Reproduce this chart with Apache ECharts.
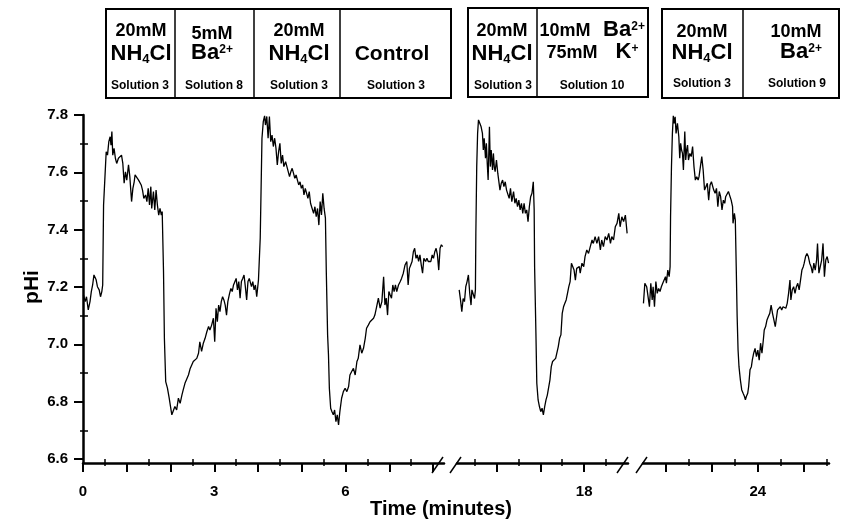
<!DOCTYPE html>
<html><head><meta charset="utf-8">
<script src="https://cdn.jsdelivr.net/npm/echarts@6/dist/echarts.min.js"></script>
<style>html,body{margin:0;padding:0;background:#fff}#c{width:841px;height:520px}</style>
</head><body><div id="c"></div>
<script>
// pHi traces (time in minutes, pH)
const seg1 = [[0.01,7.172],[0.05,7.149],[0.08,7.166],[0.12,7.120],[0.16,7.149],[0.19,7.184],[0.22,7.207],[0.25,7.242],[0.30,7.225],[0.33,7.201],[0.37,7.190],[0.40,7.166],[0.43,7.184],[0.45,7.207],[0.47,7.486],[0.50,7.579],[0.53,7.672],[0.56,7.660],[0.59,7.707],[0.62,7.724],[0.64,7.695],[0.66,7.742],[0.68,7.660],[0.71,7.684],[0.74,7.649],[0.77,7.631],[0.81,7.649],[0.85,7.655],[0.88,7.660],[0.91,7.631],[0.94,7.562],[0.97,7.602],[1.00,7.573],[1.04,7.626],[1.07,7.585],[1.11,7.498],[1.14,7.544],[1.17,7.567],[1.19,7.591],[1.23,7.585],[1.27,7.573],[1.30,7.573],[1.33,7.556],[1.36,7.538],[1.39,7.509],[1.43,7.521],[1.46,7.498],[1.49,7.544],[1.52,7.486],[1.55,7.550],[1.57,7.474],[1.61,7.533],[1.64,7.469],[1.67,7.538],[1.70,7.486],[1.73,7.451],[1.76,7.474],[1.79,7.451],[1.81,7.463],[1.84,7.254],[1.86,7.021],[1.89,6.870],[1.93,6.847],[1.97,6.812],[2.00,6.783],[2.03,6.754],[2.07,6.748],[2.10,6.783],[2.14,6.771],[2.18,6.812],[2.22,6.794],[2.26,6.823],[2.29,6.841],[2.33,6.864],[2.37,6.858],[2.41,6.893],[2.45,6.916],[2.48,6.916],[2.52,6.940],[2.56,6.934],[2.60,6.951],[2.64,6.969],[2.67,7.009],[2.71,6.975],[2.75,7.004],[2.79,7.021],[2.83,7.044],[2.87,7.062],[2.90,7.050],[2.94,7.067],[2.98,7.091],[3.01,7.009],[3.04,7.126],[3.07,7.079],[3.10,7.137],[3.13,7.114],[3.16,7.149],[3.19,7.166],[3.22,7.155],[3.25,7.137],[3.28,7.102],[3.31,7.149],[3.35,7.178],[3.38,7.195],[3.41,7.184],[3.44,7.207],[3.47,7.201],[3.50,7.230],[3.53,7.190],[3.56,7.219],[3.59,7.161],[3.62,7.219],[3.65,7.230],[3.68,7.242],[3.71,7.201],[3.74,7.155],[3.77,7.219],[3.80,7.230],[3.85,7.201],[3.88,7.219],[3.91,7.190],[3.94,7.207],[3.97,7.166],[4.01,7.225],[4.05,7.370],[4.07,7.544],[4.09,7.719],[4.12,7.777],[4.15,7.797],[4.17,7.765],[4.20,7.795],[4.23,7.719],[4.26,7.795],[4.29,7.707],[4.32,7.730],[4.35,7.690],[4.38,7.719],[4.41,7.684],[4.44,7.626],[4.47,7.672],[4.50,7.701],[4.53,7.631],[4.56,7.660],[4.59,7.620],[4.63,7.637],[4.66,7.620],[4.69,7.614],[4.72,7.585],[4.75,7.602],[4.78,7.614],[4.81,7.597],[4.84,7.579],[4.87,7.591],[4.90,7.573],[4.93,7.556],[4.96,7.567],[4.99,7.544],[5.02,7.556],[5.05,7.521],[5.08,7.544],[5.11,7.550],[5.14,7.509],[5.17,7.533],[5.20,7.492],[5.23,7.486],[5.27,7.457],[5.30,7.480],[5.33,7.445],[5.36,7.474],[5.39,7.416],[5.42,7.498],[5.45,7.451],[5.48,7.527],[5.51,7.474],[5.54,7.440],[5.56,7.254],[5.59,7.033],[5.61,6.963],[5.63,6.847],[5.66,6.777],[5.69,6.765],[5.72,6.754],[5.75,6.771],[5.78,6.730],[5.81,6.754],[5.84,6.719],[5.87,6.765],[5.91,6.812],[5.95,6.835],[5.99,6.847],[6.03,6.835],[6.07,6.853],[6.10,6.893],[6.14,6.905],[6.18,6.916],[6.22,6.893],[6.26,6.940],[6.29,6.951],[6.33,6.998],[6.37,6.969],[6.41,6.986],[6.45,7.021],[6.48,7.056],[6.52,7.067],[6.56,7.079],[6.60,7.079],[6.64,7.091],[6.67,7.102],[6.71,7.131],[6.75,7.161],[6.79,7.126],[6.83,7.149],[6.87,7.236],[6.90,7.137],[6.93,7.161],[6.96,7.102],[6.99,7.184],[7.02,7.172],[7.05,7.161],[7.08,7.207],[7.11,7.184],[7.14,7.207],[7.17,7.184],[7.21,7.207],[7.25,7.219],[7.28,7.230],[7.32,7.248],[7.36,7.277],[7.40,7.289],[7.43,7.207],[7.46,7.265],[7.49,7.277],[7.52,7.289],[7.55,7.323],[7.58,7.335],[7.61,7.300],[7.64,7.312],[7.67,7.289],[7.70,7.312],[7.73,7.277],[7.76,7.248],[7.79,7.300],[7.83,7.289],[7.86,7.300],[7.89,7.289],[7.92,7.283],[7.95,7.289],[7.98,7.312],[8.01,7.300],[8.04,7.323],[8.07,7.335],[8.10,7.312],[8.13,7.259],[8.16,7.335],[8.19,7.347],[8.22,7.341]];
const seg2 = [[15.15,7.190],[15.18,7.155],[15.21,7.114],[15.24,7.160],[15.27,7.149],[15.30,7.201],[15.33,7.219],[15.36,7.242],[15.39,7.178],[15.42,7.137],[15.44,7.190],[15.47,7.184],[15.50,7.160],[15.52,7.190],[15.53,7.387],[15.55,7.620],[15.57,7.736],[15.59,7.783],[15.62,7.771],[15.65,7.759],[15.68,7.736],[15.70,7.678],[15.72,7.719],[15.75,7.649],[15.77,7.701],[15.79,7.631],[15.81,7.573],[15.84,7.759],[15.86,7.620],[15.88,7.678],[15.91,7.608],[15.93,7.666],[15.95,7.620],[15.97,7.602],[16.00,7.643],[16.03,7.597],[16.05,7.602],[16.08,7.538],[16.11,7.562],[16.14,7.573],[16.17,7.550],[16.20,7.567],[16.23,7.538],[16.26,7.544],[16.29,7.509],[16.32,7.544],[16.35,7.498],[16.39,7.533],[16.42,7.492],[16.45,7.509],[16.48,7.480],[16.51,7.503],[16.54,7.469],[16.57,7.492],[16.60,7.457],[16.63,7.492],[16.66,7.457],[16.69,7.469],[16.72,7.428],[16.75,7.480],[16.78,7.515],[16.81,7.527],[16.84,7.567],[16.86,7.469],[16.87,7.271],[16.90,7.038],[16.92,6.864],[16.95,6.806],[16.98,6.783],[17.01,6.765],[17.04,6.777],[17.07,6.754],[17.10,6.783],[17.13,6.806],[17.16,6.823],[17.19,6.829],[17.22,6.876],[17.25,6.922],[17.28,6.940],[17.31,6.945],[17.35,6.951],[17.38,6.957],[17.41,6.992],[17.44,7.021],[17.47,7.033],[17.50,7.108],[17.53,7.131],[17.56,7.143],[17.59,7.155],[17.62,7.178],[17.65,7.201],[17.68,7.219],[17.71,7.283],[17.74,7.283],[17.77,7.259],[17.80,7.224],[17.83,7.265],[17.86,7.259],[17.89,7.271],[17.91,7.248],[17.95,7.283],[17.99,7.271],[18.02,7.306],[18.06,7.329],[18.10,7.317],[18.14,7.341],[18.18,7.364],[18.21,7.352],[18.25,7.376],[18.29,7.352],[18.33,7.376],[18.37,7.329],[18.40,7.364],[18.44,7.341],[18.48,7.376],[18.52,7.364],[18.56,7.387],[18.60,7.352],[18.63,7.376],[18.67,7.364],[18.71,7.410],[18.75,7.422],[18.79,7.457],[18.82,7.410],[18.86,7.445],[18.90,7.428],[18.94,7.451],[18.98,7.387]];
const seg3 = [[21.51,7.143],[21.54,7.213],[21.58,7.201],[21.62,7.155],[21.64,7.131],[21.67,7.213],[21.70,7.155],[21.72,7.201],[21.75,7.131],[21.78,7.219],[21.81,7.178],[21.84,7.195],[21.87,7.184],[21.90,7.201],[21.93,7.213],[21.96,7.219],[21.99,7.236],[22.01,7.213],[22.04,7.259],[22.07,7.236],[22.09,7.271],[22.10,7.445],[22.12,7.620],[22.14,7.736],[22.16,7.797],[22.18,7.771],[22.20,7.794],[22.22,7.736],[22.25,7.771],[22.28,7.724],[22.30,7.649],[22.32,7.701],[22.34,7.678],[22.36,7.666],[22.38,7.608],[22.41,7.742],[22.43,7.643],[22.45,7.678],[22.47,7.695],[22.49,7.643],[22.52,7.666],[22.55,7.655],[22.58,7.690],[22.61,7.620],[22.64,7.573],[22.67,7.585],[22.70,7.573],[22.72,7.585],[22.75,7.620],[22.78,7.655],[22.81,7.608],[22.84,7.538],[22.87,7.550],[22.90,7.562],[22.93,7.503],[22.96,7.556],[22.99,7.567],[23.01,7.573],[23.04,7.538],[23.07,7.527],[23.10,7.544],[23.13,7.480],[23.16,7.533],[23.19,7.515],[23.22,7.469],[23.25,7.503],[23.28,7.492],[23.30,7.515],[23.33,7.521],[23.36,7.533],[23.39,7.527],[23.42,7.503],[23.45,7.480],[23.46,7.422],[23.49,7.457],[23.51,7.434],[23.53,7.271],[23.55,7.097],[23.57,6.980],[23.59,6.922],[23.62,6.876],[23.65,6.841],[23.68,6.829],[23.71,6.818],[23.73,6.806],[23.75,6.818],[23.78,6.829],[23.80,6.852],[23.83,6.911],[23.86,6.922],[23.88,6.945],[23.91,6.969],[23.94,6.986],[23.97,6.957],[24.00,6.980],[24.03,6.945],[24.06,7.004],[24.09,6.969],[24.12,7.015],[24.14,7.050],[24.17,7.062],[24.20,7.085],[24.23,7.097],[24.26,7.108],[24.29,7.137],[24.32,7.108],[24.35,7.085],[24.38,7.062],[24.41,7.097],[24.43,7.120],[24.46,7.120],[24.49,7.131],[24.52,7.120],[24.55,7.131],[24.58,7.137],[24.61,7.126],[24.64,7.143],[24.67,7.178],[24.70,7.224],[24.72,7.155],[24.75,7.190],[24.78,7.201],[24.81,7.178],[24.84,7.201],[24.87,7.213],[24.90,7.190],[24.93,7.224],[24.96,7.259],[24.99,7.271],[25.01,7.283],[25.04,7.306],[25.07,7.317],[25.10,7.306],[25.13,7.283],[25.16,7.271],[25.19,7.248],[25.22,7.283],[25.25,7.259],[25.28,7.294],[25.30,7.352],[25.33,7.248],[25.36,7.271],[25.39,7.294],[25.42,7.352],[25.45,7.236],[25.48,7.294],[25.51,7.306],[25.54,7.283]];

// axis ranges and ticks
const yRange = [6.586, 7.8];
const yTicks = [6.6, 6.8, 7.0, 7.2, 7.4, 7.6, 7.8];
const yMinorTicks = [6.7, 6.9, 7.1, 7.3, 7.5, 7.7];
const x1Range = [0, 8.25], x1Ticks = [0,1,2,3,4,5,6,7,8], x1Minor = [0.5,1.5,2.5,3.5,4.5,5.5,6.5,7.5], x1Labels = [0,3,6];
const x2Range = [15.1, 19.0], x2Ticks = [16,17,18], x2Minor = [15.5,16.5,17.5,18.5], x2Labels = [18];
const x3Range = [21.5, 25.55], x3Ticks = [22,23,24,25], x3Minor = [22.5,23.5,24.5,25.5], x3Labels = [24];
const xTitle = 'Time (minutes)';
const yTitle = 'pHi';

const F = 'Liberation Sans, Arial, sans-serif';
const chart = echarts.init(document.getElementById('c'), null, {renderer: 'canvas'});

function mainX(gi, r, ticks, labels) {
  return {type:'value', gridIndex:gi, min:r[0], max:r[1], position:'bottom',
    axisLine:{show:true, onZero:false, lineStyle:{color:'#000', width:2.5}},
    axisTick:{show:true, customValues:ticks, length:9, lineStyle:{color:'#000', width:2}},
    axisLabel:{show:true, customValues:labels, margin:21, color:'#000', fontSize:15, fontWeight:'bold', fontFamily:F},
    splitLine:{show:false}};
}
function minorX(gi, r, ticks, inside, len) {
  return {type:'value', gridIndex:gi, min:r[0], max:r[1], position:'bottom',
    axisLine:{show:false}, axisLabel:{show:false}, splitLine:{show:false},
    axisTick:{show:true, customValues:ticks, inside:inside, length:len, lineStyle:{color:'#000', width:1.5}}};
}
function minorY(inside, len) {
  return {type:'value', gridIndex:0, min:yRange[0], max:yRange[1], position:'left',
    axisLine:{show:false}, axisLabel:{show:false}, splitLine:{show:false},
    axisTick:{show:true, customValues:yMinorTicks, inside:inside, length:len, lineStyle:{color:'#000', width:1.5}}};
}
function hiddenY(gi) {
  return {type:'value', gridIndex:gi, min:yRange[0], max:yRange[1], show:false, splitLine:{show:false}};
}

const R = {
  m:{fontSize:18, fontWeight:'bold', fontFamily:F, lineHeight:22},
  b:{fontSize:22, fontWeight:'bold', fontFamily:F, lineHeight:24},
  s:{fontSize:13, fontWeight:'bold', fontFamily:F, lineHeight:13, verticalAlign:'bottom'},
  B:{fontSize:22, fontWeight:'bold', fontFamily:F, lineHeight:18},
  p:{fontSize:12, fontWeight:'bold', fontFamily:F, lineHeight:12, verticalAlign:'top'},
  c:{fontSize:21, fontWeight:'bold', fontFamily:F, lineHeight:24},
  n:{fontSize:12, fontWeight:'bold', fontFamily:F, lineHeight:14}
};
const NH4 = '{b|NH}{s|4}{b|Cl}';
const BA = '{B|Ba}{p|2+}';
const KP = '{B|K}{p|+}';

function T(x, y, text, extra) {
  return Object.assign({type:'text', x:x, y:y, z:100, style:{text:text, fill:'#000', rich:R,
    align:'center', verticalAlign:'middle', textAlign:'center', textVerticalAlign:'middle',
    fontSize:14, fontWeight:'bold', fontFamily:F}}, extra || {});
}
function box(x, y, w, h) {
  return {type:'rect', z:90, shape:{x:x, y:y, width:w, height:h}, style:{fill:'#fff', stroke:'#000', lineWidth:2}};
}
function vline(x, y1, y2, w) {
  return {type:'line', z:95, shape:{x1:x, y1:y1, x2:x, y2:y2}, style:{stroke:'#000', lineWidth:w || 1.5}};
}
function slash(x) {
  return {type:'line', z:95, shape:{x1:x, y1:473, x2:x + 11, y2:457}, style:{stroke:'#000', lineWidth:1.5}};
}

const graphics = [
  box(106, 9, 345, 89), vline(175, 9, 98), vline(254, 9, 98), vline(340, 9, 98),
  box(468, 8, 180, 89), vline(537, 8, 97),
  box(662, 9, 177, 89), vline(743, 9, 98),
  // box A
  T(141, 31, '{m|20mM}'), T(141, 54, NH4), T(140, 86, '{n|Solution 3}'),
  T(212, 34, '{m|5mM}'), T(212, 53, BA), T(214, 86, '{n|Solution 8}'),
  T(299, 31, '{m|20mM}'), T(299, 54, NH4), T(299, 86, '{n|Solution 3}'),
  T(392, 54, '{c|Control}'), T(396, 86, '{n|Solution 3}'),
  // box B
  T(502, 31, '{m|20mM}'), T(502, 54, NH4), T(503, 86, '{n|Solution 3}'),
  T(565, 31, '{m|10mM}'), T(624, 30, BA),
  T(572, 53, '{m|75mM}'), T(627, 52, KP), T(592, 86, '{n|Solution 10}'),
  // box C
  T(702, 32, '{m|20mM}'), T(702, 53, NH4), T(702, 84, '{n|Solution 3}'),
  T(796, 32, '{m|10mM}'), T(801, 52, BA), T(797, 84, '{n|Solution 9}'),
  // axis titles
  T(441, 509, xTitle, {style:{text:xTitle, fill:'#000', align:'center', verticalAlign:'middle', textAlign:'center', textVerticalAlign:'middle', fontSize:20, fontWeight:'bold', fontFamily:F}}),
  T(32, 287, yTitle, {rotation:Math.PI/2, style:{text:yTitle, fill:'#000', align:'center', verticalAlign:'middle', textAlign:'center', textVerticalAlign:'middle', fontSize:21, fontWeight:'bold', fontFamily:F}}),
  // axis break marks
  slash(432), slash(450), slash(617), slash(636)
];

const lineStyle = {color:'#000', width:1.3};
chart.setOption({
  animation:false,
  backgroundColor:'#fff',
  grid:[
    {left:83, top:115, width:361, height:348, containLabel:false, outerBoundsMode:'none'},
    {left:457, top:115, width:171, height:348, containLabel:false, outerBoundsMode:'none'},
    {left:643, top:115, width:186, height:348, containLabel:false, outerBoundsMode:'none'}
  ],
  xAxis:[
    mainX(0, x1Range, x1Ticks, x1Labels), minorX(0, x1Range, x1Minor, true, 4), minorX(0, x1Range, x1Minor, false, 3),
    mainX(1, x2Range, x2Ticks, x2Labels), minorX(1, x2Range, x2Minor, true, 4), minorX(1, x2Range, x2Minor, false, 3),
    mainX(2, x3Range, x3Ticks, x3Labels), minorX(2, x3Range, x3Minor, true, 4), minorX(2, x3Range, x3Minor, false, 3)
  ],
  yAxis:[
    {type:'value', gridIndex:0, min:yRange[0], max:yRange[1], position:'left',
      axisLine:{show:true, onZero:false, lineStyle:{color:'#000', width:2.5}},
      axisTick:{show:true, customValues:yTicks, length:9, lineStyle:{color:'#000', width:2}},
      axisLabel:{show:true, customValues:yTicks, margin:15, color:'#000', fontSize:15, fontWeight:'bold', fontFamily:F,
        formatter:function(v){ return (Math.round(v*10)/10).toFixed(1); }},
      splitLine:{show:false}},
    minorY(true, 5), minorY(false, 3),
    hiddenY(1), hiddenY(2)
  ],
  series:[
    {type:'line', xAxisIndex:0, yAxisIndex:0, data:seg1, showSymbol:false, symbol:'none', lineStyle:lineStyle, z:5},
    {type:'line', xAxisIndex:3, yAxisIndex:3, data:seg2, showSymbol:false, symbol:'none', lineStyle:lineStyle, z:5},
    {type:'line', xAxisIndex:6, yAxisIndex:4, data:seg3, showSymbol:false, symbol:'none', lineStyle:lineStyle, z:5}
  ],
  graphic:{elements:graphics}
});
</script>
</body></html>
